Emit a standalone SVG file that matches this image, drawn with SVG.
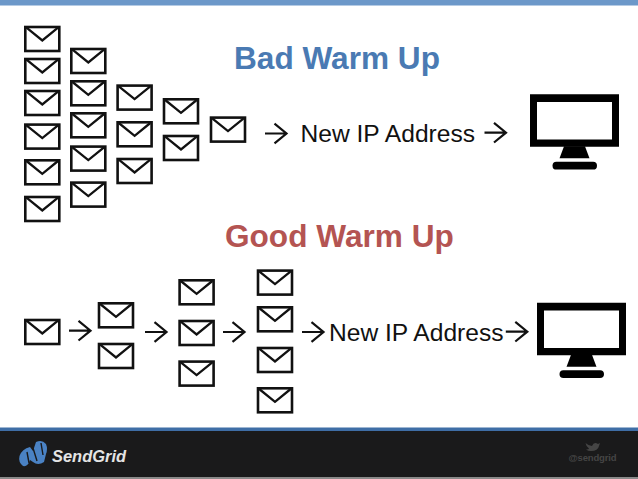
<svg xmlns="http://www.w3.org/2000/svg" width="638" height="479" viewBox="0 0 638 479">
<style>
text{font-family:"Liberation Sans",Arial,sans-serif}
.title{font-size:31.6px;font-weight:bold}
.label{font-size:24.6px;fill:#111}
.env{fill:#fff;stroke:#111;stroke-width:2.6}
.flap{fill:none;stroke:#111;stroke-width:2.3}
.arr{fill:none;stroke:#111;stroke-width:2.2}
.mon{fill:#000}
</style>
<defs>
<g id="e"><rect class="env" x="1.300" y="1.300" width="34" height="24"/><path class="flap" d="M2.500 2L18.300 14.800L34 2"/></g>
<path id="a" class="arr" d="M0 0H21.500M9.500 -9.800L21.500 0L9.500 9.800"/>
<g id="m"><path class="mon" fill-rule="evenodd" d="M0 0H89V52.500H0ZM7 7.700V45.200H82V7.700Z"/><path class="mon" d="M34 52H55L59.500 64H29.500Z"/><rect class="mon" x="22.500" y="67.500" width="44.500" height="7.800" rx="3.900"/></g>
</defs>
<rect width="638" height="479" fill="#fff"/>
<rect width="638" height="5.500" fill="#6c98c9"/>
<g id="footer">
<rect y="427.500" width="638" height="4.500" fill="#3f6ea6"/>
<rect y="431" width="638" height="46" fill="#1a1a1b"/>
<rect y="477" width="638" height="2" fill="#8a8a8a"/>
</g>
<g id="logo">
<path d="M19.500 456Q22 449 30 447L33 451L36 442Q42 439 46 444Q48 449 46 454L44 462Q38 466 33 462L30 460Q28 467 23 466Q18 462 19.500 456Z" fill="#4a82c4"/>
<path d="M33 448L37 461M27 452L29 463M41 443L43 455" stroke="#1a1a1b" stroke-width="1.400" fill="none"/>
<text x="52" y="461.500" font-size="17.200" font-weight="bold" font-style="italic" fill="#e4e4e4" textLength="74" lengthAdjust="spacingAndGlyphs">SendGrid</text>
</g>
<g id="twitter">
<path d="M585.500 443Q589 446 592 446Q594 441 598 444L600 443L599 446Q598 451 591 451Q588 451 586 449.500Q589 449.500 589 448.500Q586 446.500 585.500 443Z" fill="#454545"/>
<text x="568.500" y="461" font-size="9.500" font-weight="bold" fill="#454545" textLength="48">@sendgrid</text>
</g>
<text class="title" x="234" y="69" fill="#4a7ab3">Bad Warm Up</text>
<text class="title" x="225" y="247" fill="#b45452">Good Warm Up</text>
<g id="bad-envelopes">
<use id="b1" href="#e" x="24" y="25.700"/><use id="b2" href="#e" x="24" y="57.700"/><use id="b3" href="#e" x="24" y="89.700"/><use id="b4" href="#e" x="24" y="123.300"/><use id="b5" href="#e" x="24" y="159"/><use id="b6" href="#e" x="24" y="195.700"/>
<use id="b7" href="#e" x="70" y="47.700"/><use id="b8" href="#e" x="70" y="80"/><use id="b9" href="#e" x="70" y="112"/><use id="b10" href="#e" x="70" y="145.300"/><use id="b11" href="#e" x="70" y="181.300"/>
<use id="b12" href="#e" x="116.300" y="84.300"/><use id="b13" href="#e" x="116.300" y="121"/><use id="b14" href="#e" x="116.300" y="157.700"/>
<use id="b15" href="#e" x="162.700" y="98"/><use id="b16" href="#e" x="162.700" y="134.700"/>
<use id="b17" href="#e" x="209.700" y="116.300"/>
</g>
<g id="good-envelopes">
<use id="g1" href="#e" x="24" y="318.700"/>
<use id="g2" href="#e" x="97.700" y="302"/><use id="g3" href="#e" x="97.700" y="342.700"/>
<use id="g4" href="#e" x="178.300" y="279"/><use id="g5" href="#e" x="178.300" y="319.700"/><use id="g6" href="#e" x="178.300" y="360.300"/>
<use id="g7" href="#e" x="256.700" y="269.300"/><use id="g8" href="#e" x="256.700" y="306"/><use id="g9" href="#e" x="256.700" y="346.700"/><use id="g10" href="#e" x="256.700" y="387"/>
</g>
<g id="connectors">
<use href="#a" x="265" y="133.500"/><use href="#a" x="484.500" y="132.700"/>
<use href="#a" x="69" y="330.700"/><use href="#a" x="145" y="332"/><use href="#a" x="223" y="332"/><use href="#a" x="302" y="332"/><use href="#a" x="505.800" y="331.700"/>
</g>
<g id="ip-bad"><text class="label" x="300.500" y="142">New IP Address</text></g>
<g id="ip-good"><text class="label" x="329" y="341">New IP Address</text></g>
<g id="monitor-bad"><use href="#m" x="530" y="94.300"/></g>
<g id="monitor-good"><use href="#m" x="537" y="302.700"/></g>
</svg>
